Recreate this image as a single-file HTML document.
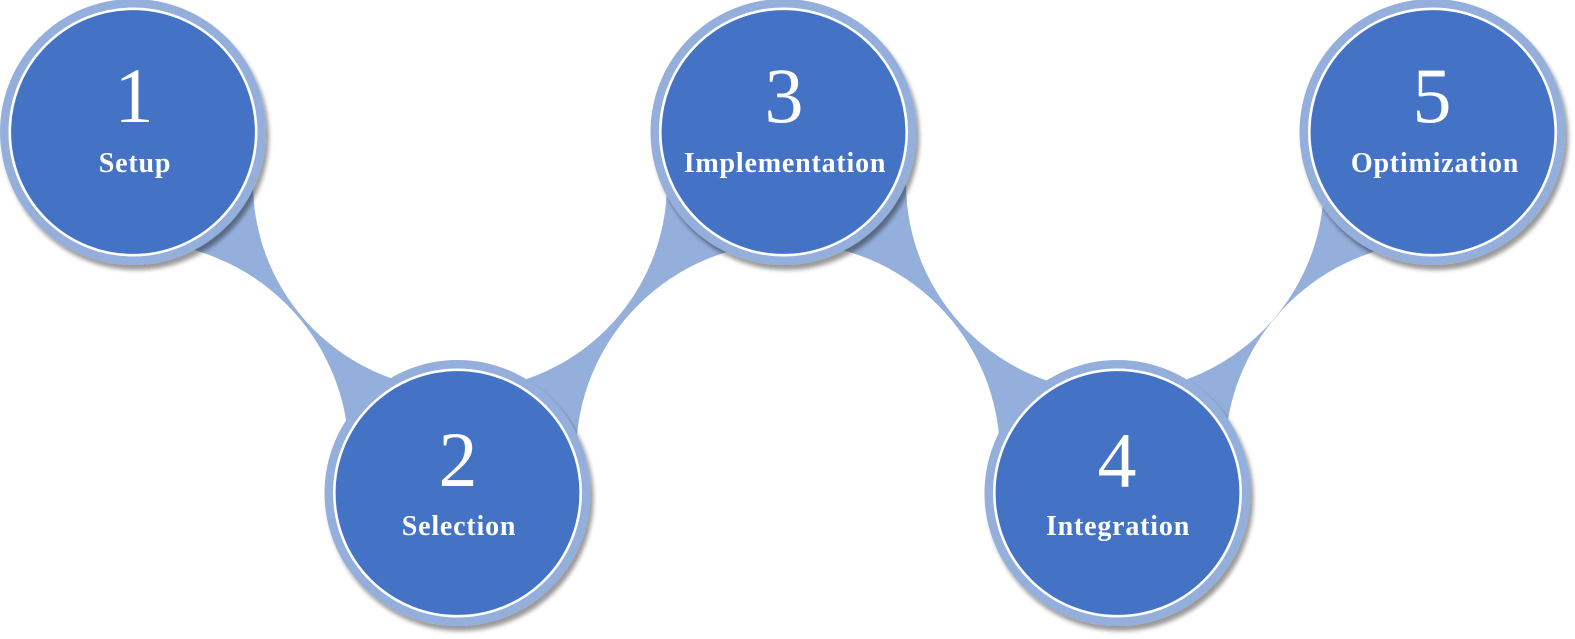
<!DOCTYPE html>
<html>
<head>
<meta charset="utf-8">
<style>
  html,body{margin:0;padding:0;background:#fff;}
  svg{display:block;}
  .num{font-family:"Liberation Serif",serif;font-size:78px;fill:#fff;text-anchor:middle;}
  .lbl{font-family:"Liberation Serif",serif;font-size:28px;font-weight:bold;fill:#fff;text-anchor:middle;letter-spacing:0.8px;}
</style>
</head>
<body>
<svg width="1575" height="639" viewBox="0 0 1575 639" xmlns="http://www.w3.org/2000/svg">
  <defs>
    <filter id="sh" x="-10%" y="-10%" width="130%" height="130%">
      <feGaussianBlur in="SourceAlpha" stdDeviation="2.2"/>
      <feOffset dx="3" dy="5" result="o"/>
      <feComponentTransfer><feFuncA type="linear" slope="0.4"/></feComponentTransfer>
      <feMerge><feMergeNode/><feMergeNode in="SourceGraphic"/></feMerge>
    </filter>
  </defs>

  <!-- connectors -->
  <g fill="#94AFDC">
    <polygon points="133,132 270,190 430,360 457.5,493 330,440 180,260"/>
    <polygon points="457.5,493 490,360 650,200 783.5,132 720,270 590,440"/>
    <polygon points="783.5,132 920,190 1085,360 1117.5,493 990,440 830,260"/>
    <polygon points="1117.5,493 1150,360 1300,200 1432.5,132 1370,265 1245,445"/>
  </g>

  <!-- cutouts -->
  <g fill="#ffffff">
    <circle cx="136" cy="455" r="213"/>
    <circle cx="460" cy="183" r="207"/>
    <circle cx="788" cy="455" r="212"/>
    <circle cx="1115" cy="183" r="209"/>
    <circle cx="1438" cy="455" r="213"/>
  </g>

  <!-- nodes -->
  <g>
    <g filter="url(#sh)"><circle cx="133" cy="132" r="133" fill="#94AFDC"/></g>
    <circle cx="133" cy="132" r="123.2" fill="#4472C4" stroke="#fff" stroke-width="2.6"/>
    <text class="num" x="134" y="122">1</text>
    <text class="lbl" x="135" y="172">Setup</text>

    <g filter="url(#sh)"><circle cx="457.5" cy="493" r="133" fill="#94AFDC"/></g>
    <circle cx="457.5" cy="493" r="123.2" fill="#4472C4" stroke="#fff" stroke-width="2.6"/>
    <text class="num" x="458" y="486">2</text>
    <text class="lbl" x="459" y="535">Selection</text>

    <g filter="url(#sh)"><circle cx="783.5" cy="132" r="133" fill="#94AFDC"/></g>
    <circle cx="783.5" cy="132" r="123.2" fill="#4472C4" stroke="#fff" stroke-width="2.6"/>
    <text class="num" x="784" y="122">3</text>
    <text class="lbl" x="785" y="172">Implementation</text>

    <g filter="url(#sh)"><circle cx="1117.5" cy="493" r="133" fill="#94AFDC"/></g>
    <circle cx="1117.5" cy="493" r="123.2" fill="#4472C4" stroke="#fff" stroke-width="2.6"/>
    <text class="num" x="1117" y="487">4</text>
    <text class="lbl" x="1118" y="535">Integration</text>

    <g filter="url(#sh)"><circle cx="1432.5" cy="132" r="133" fill="#94AFDC"/></g>
    <circle cx="1432.5" cy="132" r="123.2" fill="#4472C4" stroke="#fff" stroke-width="2.6"/>
    <text class="num" x="1432" y="122">5</text>
    <text class="lbl" x="1435" y="172">Optimization</text>
  </g>
</svg>
</body>
</html>
